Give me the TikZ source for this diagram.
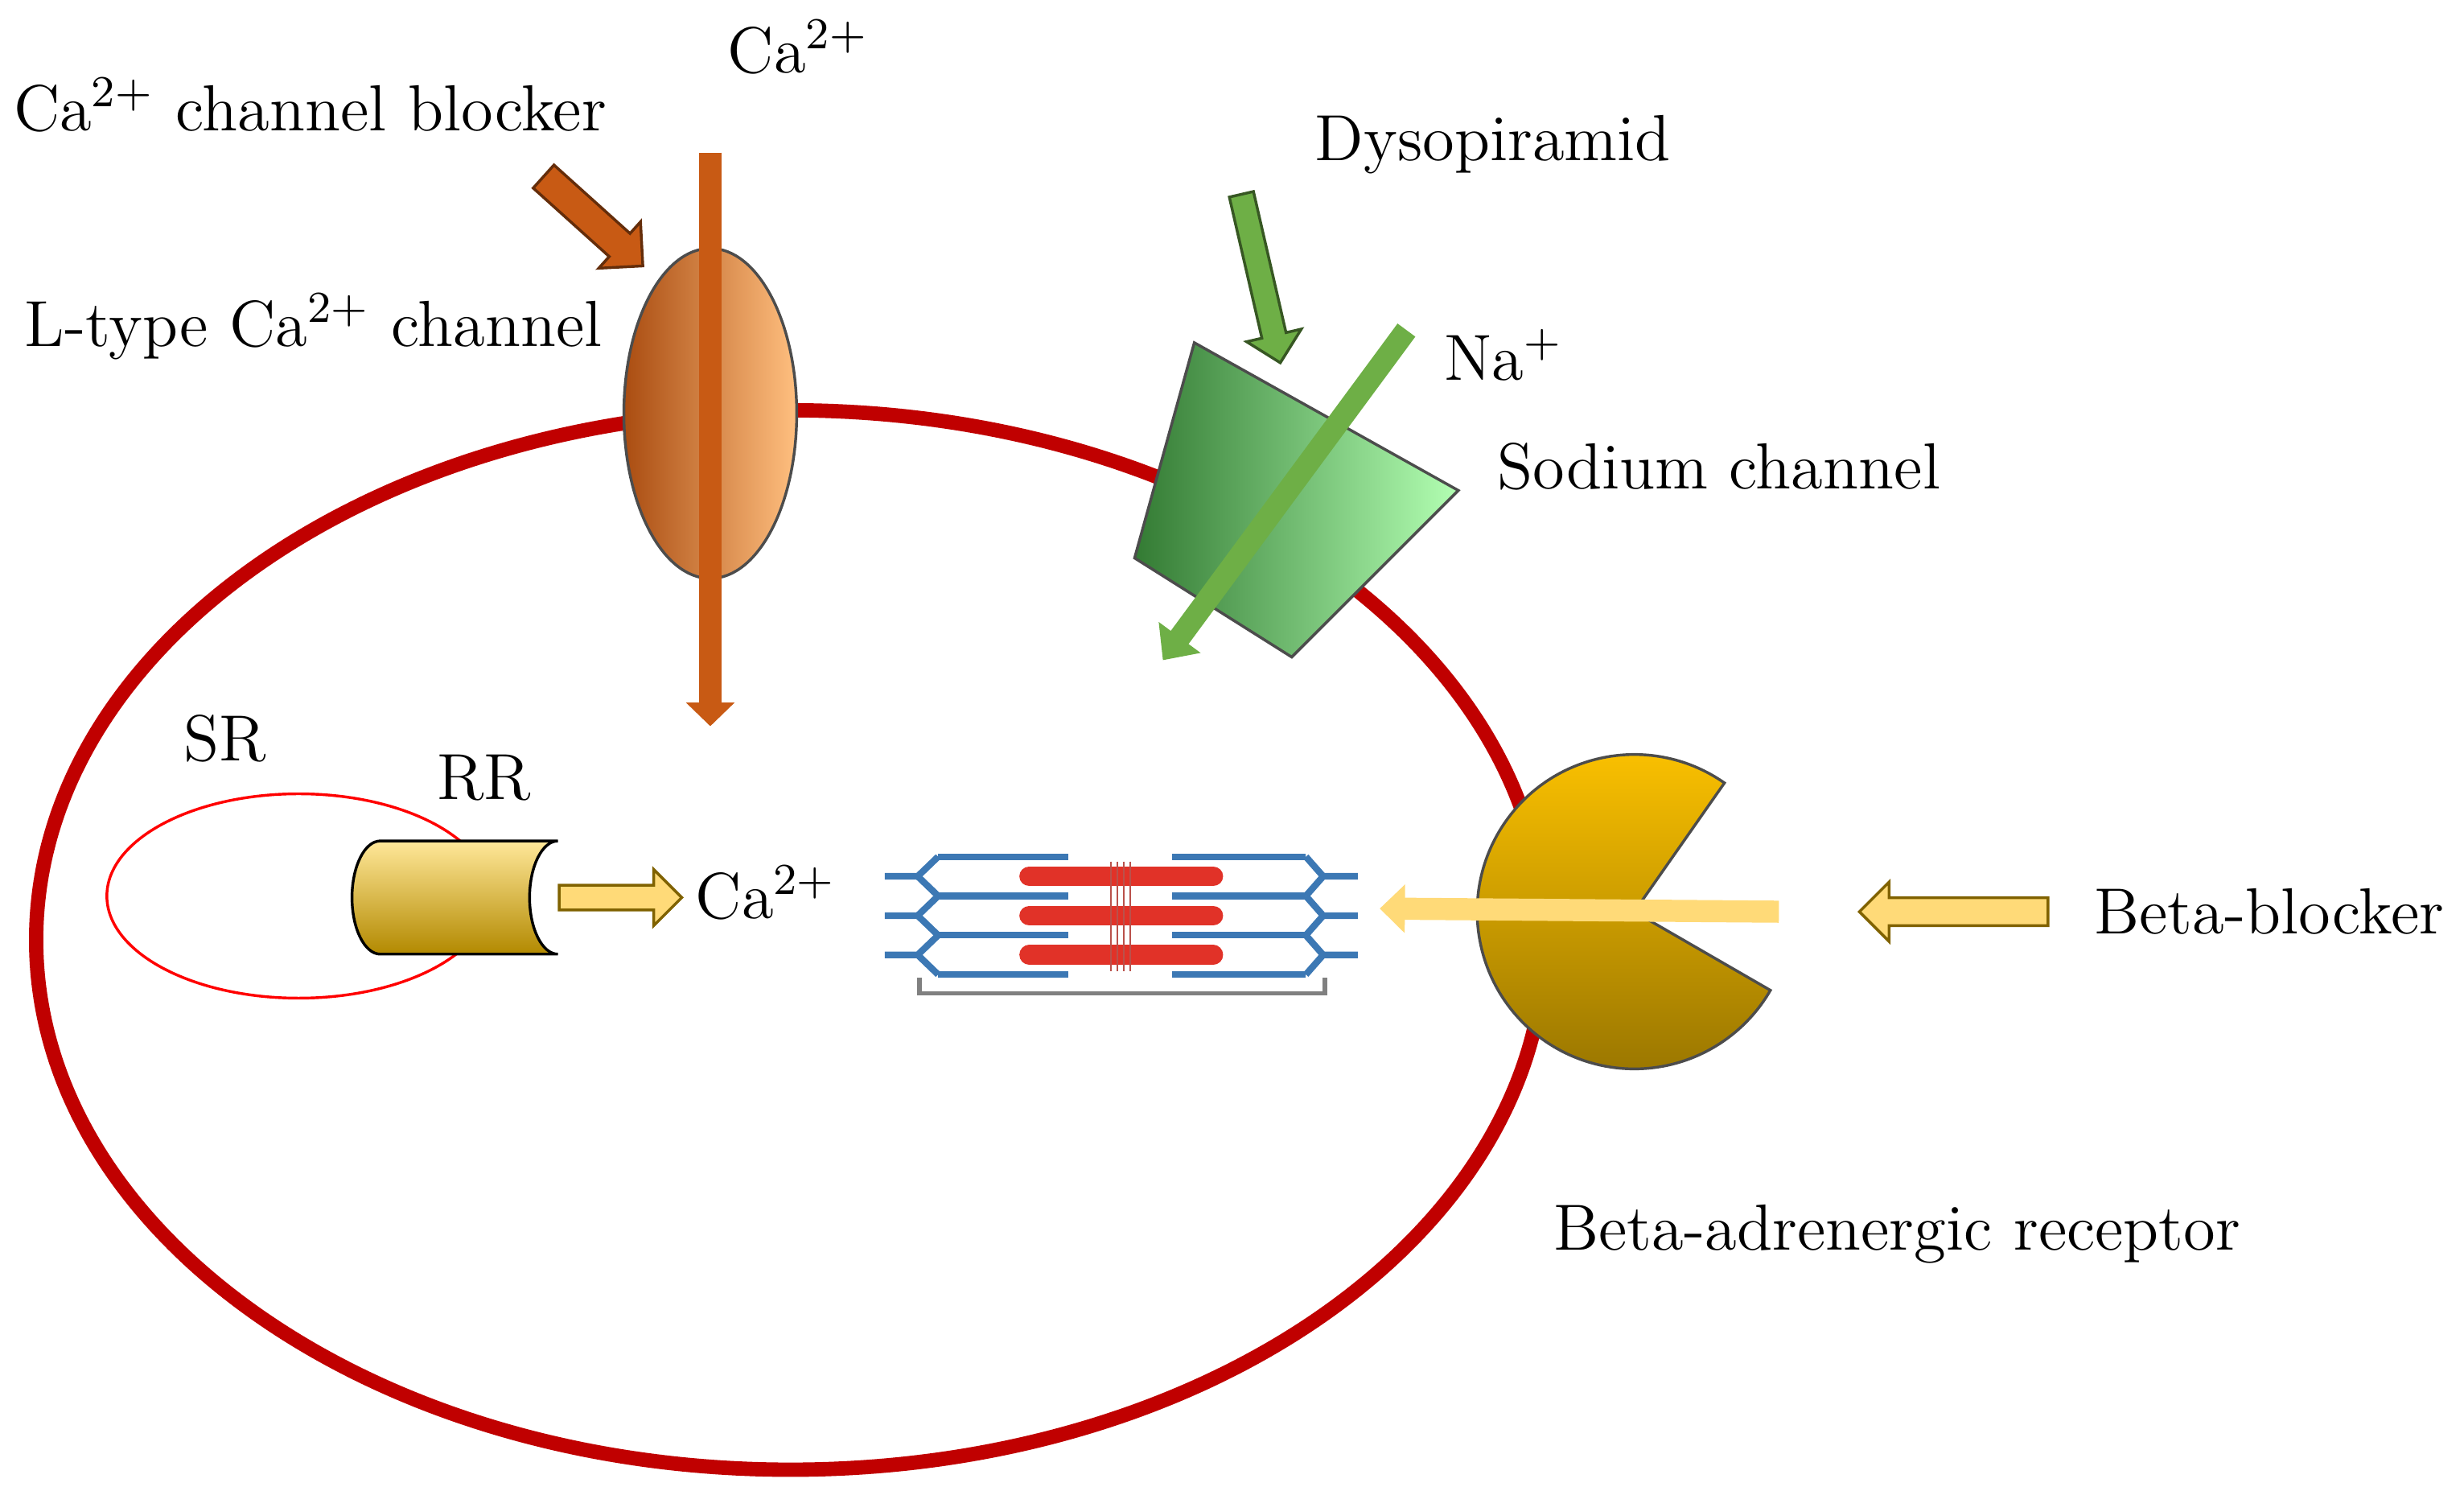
\documentclass[tikz,border=0pt]{standalone}
\usepackage{tikz}
\usetikzlibrary{positioning,shapes.arrows,arrows.meta}
\definecolor{cellred}{RGB}{192,0,0}
\definecolor{caorange}{RGB}{200,90,20}
\definecolor{naGreen}{RGB}{110,175,70}
\definecolor{gold}{RGB}{255,196,0}
\definecolor{lightgold}{RGB}{255,218,120}
\definecolor{actin}{RGB}{60,120,180}
\definecolor{myosin}{RGB}{225,50,40}
\tikzset{
  lbl/.style={inner sep=0pt, font=\fontsize{11.8}{14}\selectfont},
  blockarrow/.style={single arrow, draw=#1!50!black, minimum height=0.85cm,
    inner sep=0.09cm, single arrow head extend=0.1cm, line width=0.5pt}
}
\begin{document}
\begin{tikzpicture}
\useasboundingbox (0,0) rectangle (15.68,-9.46);
% cell membrane
\draw[cellred, line width=2.6pt] (5.03,-5.98) ellipse (4.80 and 3.37);
% SR and RR
\draw[red, line width=0.5pt] (1.90,-5.70) ellipse (1.22 and 0.65);
\shade[top color=gold!40, bottom color=gold!70!black, draw=black, line width=0.5pt]
  (2.42,-5.35) -- (3.55,-5.35) arc[start angle=90, end angle=270, x radius=0.18, y radius=0.36]
  -- (2.42,-6.07) arc[start angle=270, end angle=90, x radius=0.18, y radius=0.36] -- cycle;
\coordinate (rr) at (3.55,-5.71);
\node[blockarrow=gold, fill=lightgold, minimum height=0.78cm, inner sep=0.07cm,
  anchor=tail] (rrarrow) at (rr) {};
\node[lbl, anchor=west] (caIn) at (4.42,-5.68) {Ca$^{2+}$};
\node[lbl] (sr) at (1.43,-4.70) {SR};
\node[lbl] (rrlbl) at (3.08,-4.95) {RR};
% L-type channel
\shade[left color=caorange!85!black, right color=orange!50, draw=black!70, line width=0.5pt]
  (4.52,-2.63) ellipse (0.55 and 1.05);
\coordinate (caTop) at (4.52,-0.97);
\coordinate (caBot) at (4.52,-4.62);
\draw[caorange, line width=4pt, -{Triangle[length=0.15cm, width=0.3cm]}] (caTop) -- (caBot);
\node[blockarrow=caorange, fill=caorange, rotate=-42, anchor=tip] (blockarrow) at (4.10,-1.70) {};
\node[lbl] (caOut) at (5.08,-0.30) {Ca$^{2+}$};
\node[lbl, anchor=west] (blocker) at (0.08,-0.67) {Ca$^{2+}$ channel blocker};
\node[lbl, anchor=west] (ltype) at (0.15,-2.08) {L-type Ca$^{2+}$ channel};
% sodium channel
\shade[shading angle=45, left color=green!35!black!80, right color=green!30!white,
  draw=black!70, line width=0.5pt]
  (7.60,-2.18) -- (9.28,-3.12) -- (8.22,-4.18) -- (7.22,-3.55) -- cycle;
\coordinate (naTop) at (8.95,-2.10);
\coordinate (naBot) at (7.40,-4.20);
\draw[naGreen, line width=4pt, -{Triangle[length=0.18cm, width=0.32cm]}] (naTop) -- (naBot);
\node[blockarrow=naGreen, fill=naGreen, rotate=-77, anchor=tip,
  minimum height=1.1cm, inner sep=0.07cm] (dysArrow) at (8.15,-2.32) {};
\node[lbl] (dys) at (9.50,-0.92) {Dysopiramid};
\node[lbl] (na) at (9.57,-2.26) {Na$^{+}$};
\node[lbl, anchor=west] (sodium) at (9.52,-2.97) {Sodium channel};
% sarcomere
\foreach \y in {5.45,5.70,5.95,6.20} {
  \draw[actin, line width=1.2pt] (5.97,-\y) -- (6.80,-\y);
  \draw[actin, line width=1.2pt] (7.46,-\y) -- (8.31,-\y);
}
\foreach \y in {5.575,5.825,6.075} {
  \draw[actin, line width=1.2pt] (5.63,-\y) -- (5.84,-\y) -- (5.97,-\y+0.125);
  \draw[actin, line width=1.2pt] (5.84,-\y) -- (5.97,-\y-0.125);
  \draw[actin, line width=1.2pt] (8.64,-\y) -- (8.42,-\y) -- (8.31,-\y+0.125);
  \draw[actin, line width=1.2pt] (8.42,-\y) -- (8.31,-\y-0.125);
  \draw[myosin, line width=3.6pt, line cap=round] (6.55,-\y) -- (7.72,-\y);
}
\foreach \x in {7.07,7.11,7.15,7.19}
  \draw[myosin!60!gray, line width=0.3pt] (\x,-5.48) -- (\x,-6.18);
\draw[gray, line width=0.8pt] (5.85,-6.22) -- (5.85,-6.32) -- (8.43,-6.32) -- (8.43,-6.22);
% beta receptor
\shade[top color=gold, bottom color=gold!60!black, draw=black!70, line width=0.5pt]
  (10.40,-5.80) -- ++(55:1.0) arc[start angle=55, end angle=330, radius=1.0] -- cycle;
\coordinate (betaStart) at (11.32,-5.80);
\coordinate (betaEnd) at (8.78,-5.78);
\draw[lightgold, line width=4pt, -{Triangle[length=0.16cm, width=0.3cm]}] (betaStart) -- (betaEnd);
\node[blockarrow=gold, fill=lightgold, rotate=180, anchor=tip,
  minimum height=1.2cm, inner sep=0.08cm, single arrow head extend=0.1cm] (bbArrow) at (11.82,-5.80) {};
\node[lbl, anchor=west] (bb) at (13.32,-5.80) {Beta-blocker};
\node[lbl, anchor=west] (receptor) at (9.88,-7.85) {Beta-adrenergic receptor};
\end{tikzpicture}
\end{document}
